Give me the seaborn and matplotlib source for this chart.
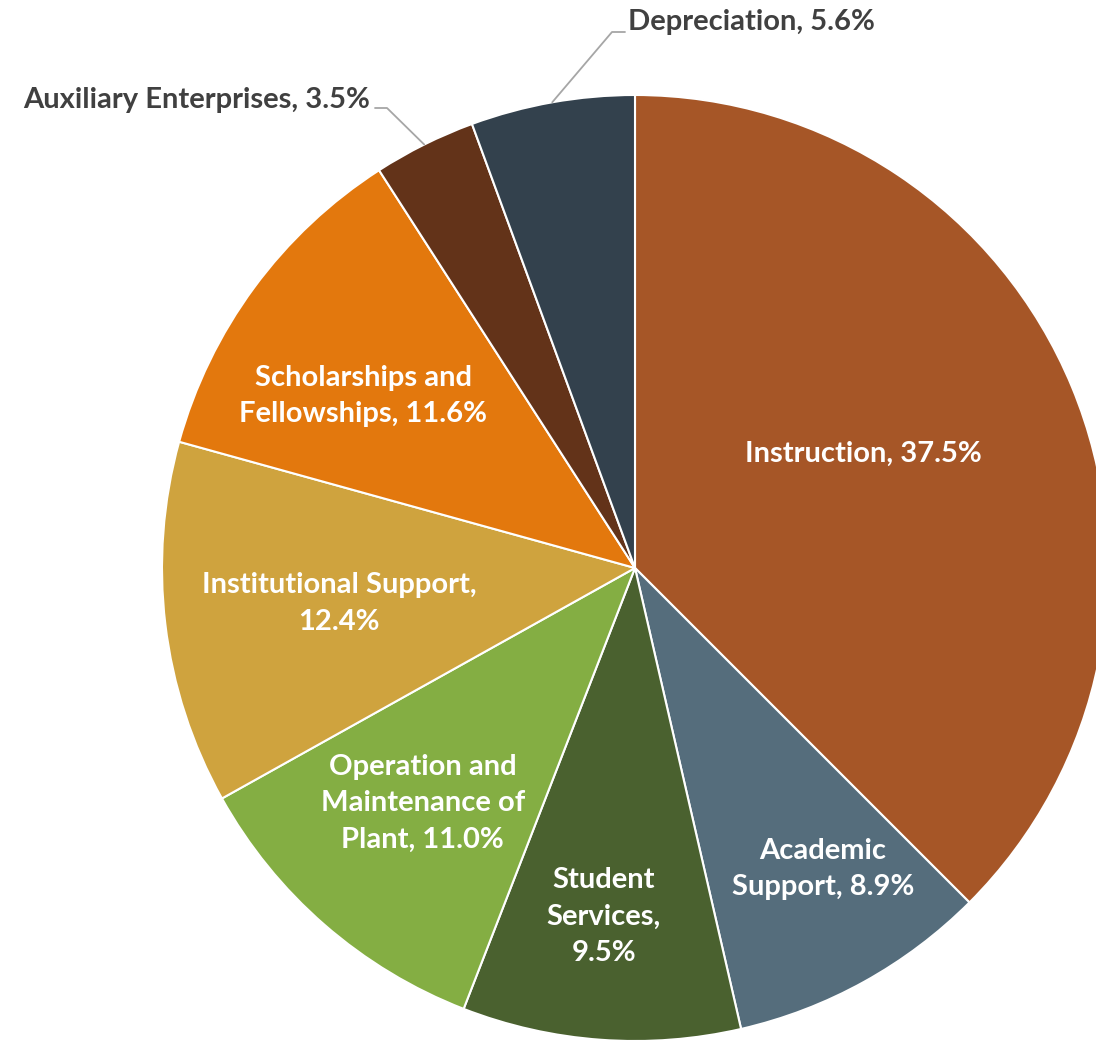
import numpy as np
import matplotlib
matplotlib.use("Agg")
import matplotlib.pyplot as plt
import seaborn as sns

sns.set_theme(style="white")
plt.rcParams['font.family'] = ['Lato', 'DejaVu Sans']

# --- data ---
categories = ["Instruction", "Academic Support", "Student Services",
              "Operation and Maintenance of Plant", "Institutional Support",
              "Scholarships and Fellowships", "Auxiliary Enterprises", "Depreciation"]
shares = [37.5, 8.9, 9.5, 11.0, 12.4, 11.6, 3.5, 5.6]
colors = ["#A65627", "#556D7C", "#4A612F", "#84AE43", "#CFA33E",
          "#E3780D", "#633319", "#33414D"]

# label text for each slice (Excel style "Name, x.x%")
label_txt = [
    "Instruction, 37.5%",
    "Academic\nSupport, 8.9%",
    "Student\nServices,\n9.5%",
    "Operation and\nMaintenance of\nPlant, 11.0%",
    "Institutional Support,\n12.4%",
    "Scholarships and\nFellowships, 11.6%",
    "Auxiliary Enterprises, 3.5%",
    "Depreciation, 5.6%",
]
label_r = [0.54, 0.75, 0.74, 0.67, 0.63, 0.68, None, None]
label_da = [4, 3, -1, -1, 0, 4, 0, 0]
FS = 21

fig = plt.figure(figsize=(10.96, 10.46), dpi=100)
ax = fig.add_axes([0, 0, 1, 1])

cx, cy, R = 635, 568, 473
ax.set_xlim(-cx / R, (1096 - cx) / R)
ax.set_ylim((cy - 1046) / R, cy / R)

wedges, _ = ax.pie(shares, colors=colors, startangle=90, counterclock=False,
                   radius=1.0, center=(0, 0), frame=True,
                   wedgeprops=dict(edgecolor="white", linewidth=1.5))
ax.set_aspect("auto")
ax.axis("off")

for i, w in enumerate(wedges):
    mid = np.deg2rad((w.theta1 + w.theta2) / 2 + label_da[i])
    if label_r[i] is not None:
        ax.text(label_r[i] * np.cos(mid), label_r[i] * np.sin(mid), label_txt[i],
                ha="center", va="center", color="white", fontsize=FS,
                fontweight="bold", linespacing=1.5)

# outside labels with leader lines
def px(x, y):
    return (x - cx) / R, (cy - y) / R

gray = "#A6A6A6"
# Auxiliary Enterprises
w = wedges[6]
a = np.deg2rad((w.theta1 + w.theta2) / 2)
p_edge = (np.cos(a) * 1.0, np.sin(a) * 1.0)
p_knee = px(387, 108)
p_end = px(375, 108)
ax.plot([p_edge[0], p_knee[0], p_end[0]], [p_edge[1], p_knee[1], p_end[1]],
        color=gray, lw=1.3)
ax.text(px(370, 100)[0], px(370, 100)[1], label_txt[6], ha="right", va="center",
        color="#404040", fontsize=FS, fontweight="bold")
# Depreciation
w = wedges[7]
a = np.deg2rad((w.theta1 + w.theta2) / 2)
p_edge = (np.cos(a) * 1.0, np.sin(a) * 1.0)
p_knee = px(612, 32)
p_end = px(625, 32)
ax.plot([p_edge[0], p_knee[0], p_end[0]], [p_edge[1], p_knee[1], p_end[1]],
        color=gray, lw=1.3)
ax.text(px(628, 22)[0], px(628, 22)[1], label_txt[7], ha="left", va="center",
        color="#404040", fontsize=FS, fontweight="bold")

fig.savefig("out.png", dpi=100)
